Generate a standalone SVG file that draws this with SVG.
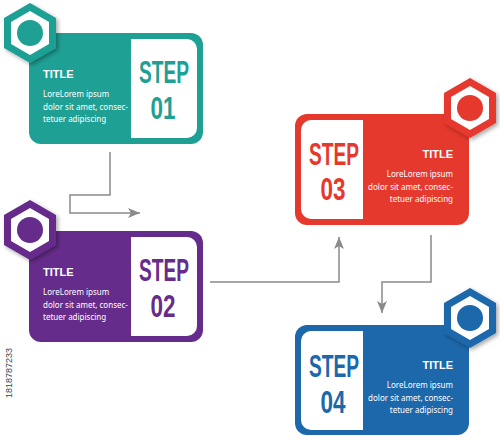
<svg xmlns="http://www.w3.org/2000/svg" width="500" height="436" viewBox="0 0 500 436">
<style>
.title{font-family:"Liberation Sans",Arial,sans-serif;font-weight:bold;font-size:11px;fill:#fff}
.body{font-family:"Noto Sans","Liberation Sans",sans-serif;font-size:8px;fill:#fff}
.step{font-family:"Liberation Sans",Arial,sans-serif;font-weight:bold;font-size:31px;text-anchor:middle}
.conn{fill:none;stroke:#8a8a8a;stroke-width:1.5}
.r{text-anchor:end}
.white{fill:#fff}
</style>
<defs>
<polygon id="hexO" points="0,-30 26,-15 26,15 0,30 -26,15 -26,-15"/>
<polygon id="hexI" points="0,-22 19,-11 19,11 0,22 -19,11 -19,-11"/>
<filter id="sh" x="-30%" y="-30%" width="170%" height="170%">
<feDropShadow dx="2" dy="2" stdDeviation="2" flood-color="#000" flood-opacity="0.35"/>
</filter>
<marker id="arr" markerUnits="userSpaceOnUse" markerWidth="12" markerHeight="10" viewBox="0 0 12 10" refX="12" refY="5" orient="auto">
<path d="M0,0 L12,5 L0,10 L3,5 Z" fill="#8a8a8a"/>
</marker>
</defs>
<rect width="500" height="436" fill="#fff"/>
<text x="12" y="398" transform="rotate(-90 12 398)" font-family="Liberation Sans,Arial,sans-serif" font-size="9" fill="#444">1818787233</text>

<g id="connectors">
<path class="conn" d="M110,152 V195 H70 V213 H140" marker-end="url(#arr)"/>
<path class="conn" d="M210,282 H339 V237" marker-end="url(#arr)"/>
<path class="conn" d="M431,235 V282 H382 V313" marker-end="url(#arr)"/>
</g>

<g id="step1">
<rect x="29" y="33" width="174" height="111" rx="12" fill="#1fa094"/>
<path class="white" d="M131,39 H187 A10,10 0 0 1 197,49 V128 A10,10 0 0 1 187,138 H131 Z"/>
<text class="title" x="43" y="78">TITLE</text>
<text class="body" x="43" y="97">LoreLorem ipsum</text>
<text class="body" x="43" y="109.5">dolor sit amet, consec-</text>
<text class="body" x="43" y="121.5">tetuer adipiscing</text>
<text class="step" x="164" y="83" fill="#1fa094" textLength="50" lengthAdjust="spacingAndGlyphs">STEP</text>
<text class="step" x="163" y="119" fill="#1fa094" textLength="25" lengthAdjust="spacingAndGlyphs">01</text>
<g transform="translate(30,33)">
<use href="#hexO" fill="#1fa094" filter="url(#sh)"/>
<use href="#hexI" fill="#fff"/>
<circle r="13" fill="#1fa094"/>
</g>
</g>

<g id="step2">
<rect x="29" y="231" width="174" height="111" rx="12" fill="#662c8b"/>
<path class="white" d="M131,237 H187 A10,10 0 0 1 197,247 V326 A10,10 0 0 1 187,336 H131 Z"/>
<text class="title" x="43" y="276">TITLE</text>
<text class="body" x="43" y="295">LoreLorem ipsum</text>
<text class="body" x="43" y="307.5">dolor sit amet, consec-</text>
<text class="body" x="43" y="319.5">tetuer adipiscing</text>
<text class="step" x="164" y="281" fill="#662c8b" textLength="50" lengthAdjust="spacingAndGlyphs">STEP</text>
<text class="step" x="163" y="317" fill="#662c8b" textLength="25" lengthAdjust="spacingAndGlyphs">02</text>
<g transform="translate(30,230)">
<use href="#hexO" fill="#662c8b" filter="url(#sh)"/>
<use href="#hexI" fill="#fff"/>
<circle r="13" fill="#662c8b"/>
</g>
</g>

<g id="step3">
<rect x="295" y="114" width="174" height="111" rx="12" fill="#e5392d"/>
<path class="white" d="M363,120 H311 A10,10 0 0 0 301,130 V209 A10,10 0 0 0 311,219 H363 Z"/>
<text class="title r" x="453" y="158">TITLE</text>
<text class="body r" x="453" y="177">LoreLorem ipsum</text>
<text class="body r" x="453" y="189.5">dolor sit amet, consec-</text>
<text class="body r" x="453" y="201.5">tetuer adipiscing</text>
<text class="step" x="334" y="165" fill="#e5392d" textLength="50" lengthAdjust="spacingAndGlyphs">STEP</text>
<text class="step" x="333" y="200" fill="#e5392d" textLength="25" lengthAdjust="spacingAndGlyphs">03</text>
<g transform="translate(470,108)">
<use href="#hexO" fill="#e5392d" filter="url(#sh)"/>
<use href="#hexI" fill="#fff"/>
<circle r="13" fill="#e5392d"/>
</g>
</g>

<g id="step4">
<rect x="295" y="325" width="174" height="110" rx="12" fill="#1d67ab"/>
<path class="white" d="M363,331 H311 A10,10 0 0 0 301,341 V420 A10,10 0 0 0 311,430 H363 Z"/>
<text class="title r" x="453" y="369">TITLE</text>
<text class="body r" x="453" y="388">LoreLorem ipsum</text>
<text class="body r" x="453" y="400.5">dolor sit amet, consec-</text>
<text class="body r" x="453" y="412.5">tetuer adipiscing</text>
<text class="step" x="334" y="377" fill="#1d67ab" textLength="50" lengthAdjust="spacingAndGlyphs">STEP</text>
<text class="step" x="333" y="413" fill="#1d67ab" textLength="25" lengthAdjust="spacingAndGlyphs">04</text>
<g transform="translate(470,318)">
<use href="#hexO" fill="#1d67ab" filter="url(#sh)"/>
<use href="#hexI" fill="#fff"/>
<circle r="13" fill="#1d67ab"/>
</g>
</g>
</svg>
